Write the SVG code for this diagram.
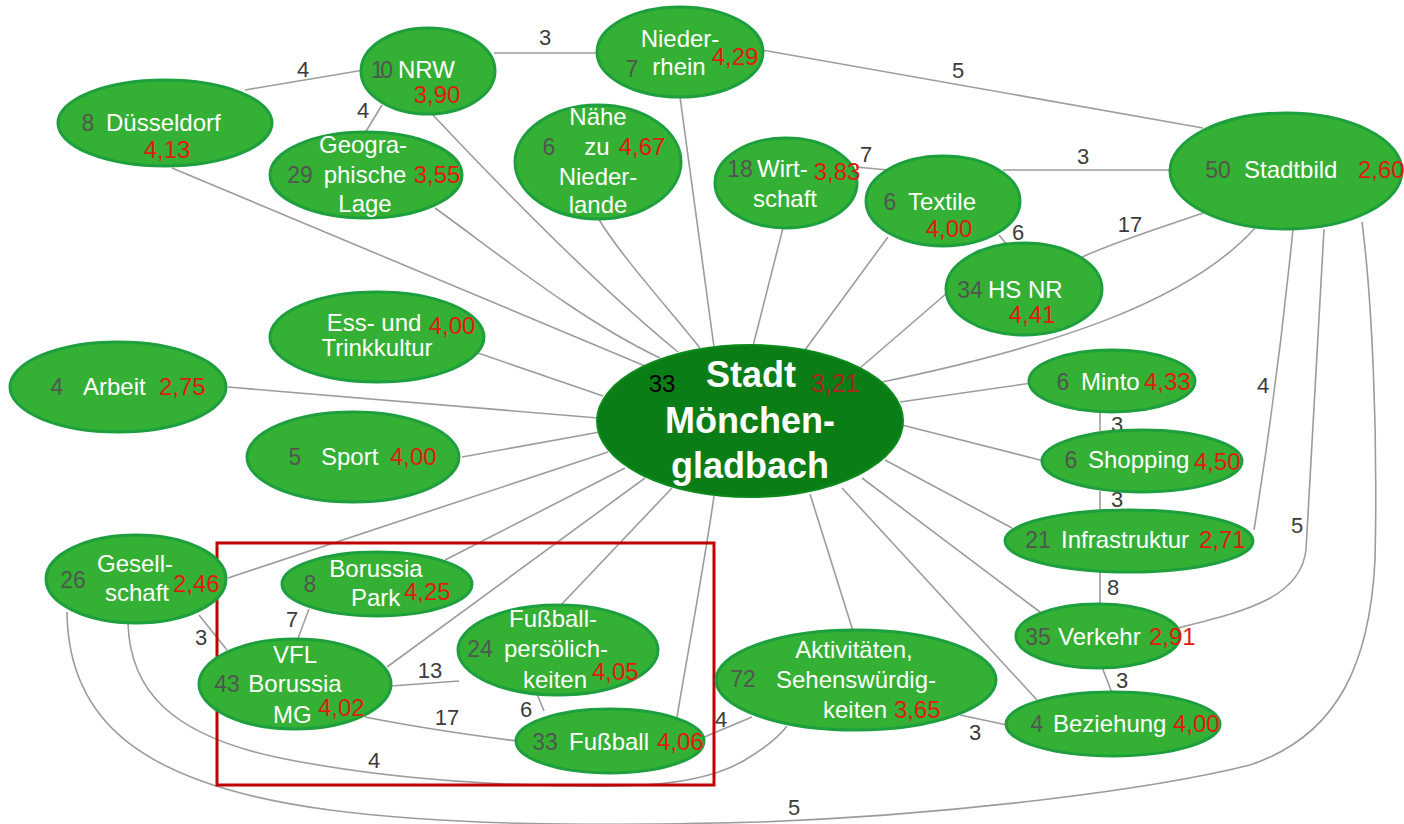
<svg xmlns="http://www.w3.org/2000/svg" width="1404" height="824" viewBox="0 0 1404 824">
<style>
.c{fill:none;stroke:#9c9c9c;stroke-width:1.6}
.n{fill:#34b034;stroke:#1d9f3e;stroke-width:3}
.m{fill:#0b7d16;stroke:#0d8a1c;stroke-width:2}
text{font-family:"Liberation Sans",Arial,sans-serif}
.t{fill:#ffffff;font-size:24px}
.g{fill:#50574f;font-size:23px}
.r{fill:#e01b10;font-size:24px}
.e{fill:#3c3c3c;font-size:22px;text-anchor:middle}
.mid{text-anchor:middle}
.b{fill:#ffffff;font-size:36px;font-weight:bold;text-anchor:middle}
</style>
<rect width="1404" height="824" fill="#ffffff"/>
<g id="connectors">
<path class="c" d="M172,168 L645,366"/>
<path class="c" d="M435,208 C500,255 580,320 660,358"/>
<path class="c" d="M432,114 C480,165 590,280 678,352"/>
<path class="c" d="M598,218 C620,255 670,310 700,348"/>
<path class="c" d="M680,97 L714,347"/>
<path class="c" d="M783,228 L753,346"/>
<path class="c" d="M888,237 L805,350"/>
<path class="c" d="M947,293 L860,368"/>
<path class="c" d="M1255,228 C1190,300 1060,345 882,382"/>
<path class="c" d="M1032,383 L900,402"/>
<path class="c" d="M1044,461 L902,425"/>
<path class="c" d="M1012,528 L885,460"/>
<path class="c" d="M1040,612 L862,478"/>
<path class="c" d="M1037,700 L842,488"/>
<path class="c" d="M853,631 L810,494"/>
<path class="c" d="M677,717 C690,640 705,560 714,496"/>
<path class="c" d="M561,605 L672,488"/>
<path class="c" d="M387,667 L645,478"/>
<path class="c" d="M445,560 L625,468"/>
<path class="c" d="M228,578 L608,452"/>
<path class="c" d="M462,457 L600,432"/>
<path class="c" d="M228,387 L598,418"/>
<path class="c" d="M478,353 L603,396"/>
<path class="c" d="M245,90 L364,70"/>
<path class="c" d="M382,105 L365,133"/>
<path class="c" d="M494,53 L598,53"/>
<path class="c" d="M762,50 L1203,128"/>
<path class="c" d="M856,167 L888,170"/>
<path class="c" d="M1003,170 L1171,170"/>
<path class="c" d="M999,235 L1008,246"/>
<path class="c" d="M1082,257 C1120,240 1160,228 1203,213"/>
<path class="c" d="M1293,229 C1284,320 1270,430 1254,530"/>
<path class="c" d="M1324,229 C1318,330 1312,450 1306,550 C1300,600 1240,612 1178,628"/>
<path class="c" d="M1100,411 L1100,431"/>
<path class="c" d="M1100,491 L1100,511"/>
<path class="c" d="M1100,571 L1100,605"/>
<path class="c" d="M1102,667 L1112,693"/>
<path class="c" d="M960,715 L1007,725"/>
<path class="c" d="M702,738 L752,717"/>
<path class="c" d="M537,694 L544,711"/>
<path class="c" d="M365,717 C420,728 470,735 517,741"/>
<path class="c" d="M391,686 L459,681"/>
<path class="c" d="M309,609 L297,641"/>
<path class="c" d="M199,615 L227,650"/>
<path class="c" d="M128,623 C130,690 170,735 280,758 C380,778 500,787 620,786 C680,785 720,775 745,760 C765,748 778,738 787,726"/>
<path class="c" d="M67,612 C68,720 140,785 330,810 C450,826 600,826 760,822 C950,815 1150,790 1250,765 C1340,735 1370,660 1375,560 C1378,430 1372,300 1362,222"/>
<text class="e" x="303" y="77">4</text>
<text class="e" x="363" y="118">4</text>
<text class="e" x="545" y="45">3</text>
<text class="e" x="958" y="78">5</text>
<text class="e" x="866" y="162">7</text>
<text class="e" x="1083" y="164">3</text>
<text class="e" x="1018" y="240">6</text>
<text class="e" x="1130" y="232">17</text>
<text class="e" x="1263" y="393">4</text>
<text class="e" x="1297" y="533">5</text>
<text class="e" x="1117" y="432">3</text>
<text class="e" x="1117" y="507">3</text>
<text class="e" x="1113" y="595">8</text>
<text class="e" x="1122" y="688">3</text>
<text class="e" x="975" y="740">3</text>
<text class="e" x="721" y="727">4</text>
<text class="e" x="526" y="717">6</text>
<text class="e" x="447" y="725">17</text>
<text class="e" x="430" y="678">13</text>
<text class="e" x="292" y="627">7</text>
<text class="e" x="201" y="645">3</text>
<text class="e" x="374" y="768">4</text>
<text class="e" x="794" y="815">5</text>
</g>
<rect x="217" y="543" width="497" height="242" fill="none" stroke="#c00000" stroke-width="3"/>
<g id="central">
<ellipse class="m" cx="750" cy="421" rx="153" ry="76"/>
<text class="b" x="751" y="387">Stadt</text>
<text class="b" x="750" y="433">Mönchen-</text>
<text class="b" x="750" y="478">gladbach</text>
<text class="mid" x="662" y="392" fill="#000000" font-size="24">33</text>
<text class="mid" x="835" y="392" fill="#a8281e" font-size="25">3,21</text>
</g>
<g id="duesseldorf">
<ellipse class="n" cx="165" cy="123" rx="107" ry="43"/>
<text class="g mid" x="88" y="131">8</text>
<text class="t" x="106" y="131">Düsseldorf</text>
<text class="r mid" x="167" y="158">4,13</text>
</g>
<g id="nrw">
<ellipse class="n" cx="428" cy="71" rx="67" ry="43"/>
<text class="g mid" x="382" y="78" textLength="22">10</text>
<text class="t" x="398" y="78">NRW</text>
<text class="r mid" x="437" y="103">3,90</text>
</g>
<g id="geographische-lage">
<ellipse class="n" cx="366" cy="175" rx="96" ry="43"/>
<text class="t mid" x="363" y="153">Geogra-</text>
<text class="t mid" x="365" y="183">phische</text>
<text class="t mid" x="365" y="212">Lage</text>
<text class="g mid" x="300" y="183">29</text>
<text class="r mid" x="437" y="183">3,55</text>
</g>
<g id="niederrhein">
<ellipse class="n" cx="680" cy="52" rx="83" ry="45"/>
<text class="t mid" x="680" y="47">Nieder-</text>
<text class="t mid" x="679" y="75">rhein</text>
<text class="g mid" x="632" y="77">7</text>
<text class="r mid" x="735" y="65">4,29</text>
</g>
<g id="naehe-niederlande">
<ellipse class="n" cx="598" cy="162" rx="83" ry="57"/>
<text class="t mid" x="598" y="125">Nähe</text>
<text class="t mid" x="597" y="155">zu</text>
<text class="t mid" x="598" y="185">Nieder-</text>
<text class="t mid" x="598" y="213">lande</text>
<text class="g mid" x="549" y="155">6</text>
<text class="r mid" x="642" y="155">4,67</text>
</g>
<g id="wirtschaft">
<ellipse class="n" cx="786" cy="183" rx="71" ry="45"/>
<text class="t" x="757" y="177">Wirt-</text>
<text class="t mid" x="785" y="207">schaft</text>
<text class="g mid" x="740" y="177">18</text>
<text class="r mid" x="837" y="180">3,83</text>
</g>
<g id="textile">
<ellipse class="n" cx="943" cy="201" rx="77" ry="45"/>
<text class="g mid" x="890" y="210">6</text>
<text class="t" x="908" y="210">Textile</text>
<text class="r mid" x="949" y="237">4,00</text>
</g>
<g id="hs-nr">
<ellipse class="n" cx="1024" cy="289" rx="78" ry="46"/>
<text class="g mid" x="970" y="298">34</text>
<text class="t" x="988" y="298">HS NR</text>
<text class="r mid" x="1032" y="323">4,41</text>
</g>
<g id="stadtbild">
<ellipse class="n" cx="1286" cy="171" rx="116" ry="58"/>
<text class="g mid" x="1218" y="178">50</text>
<text class="t" x="1244" y="178">Stadtbild</text>
<text class="r" x="1358" y="178">2,60</text>
</g>
<g id="ess-trinkkultur">
<ellipse class="n" cx="377" cy="337" rx="107" ry="45"/>
<text class="t mid" x="374" y="331">Ess- und</text>
<text class="t mid" x="377" y="356">Trinkkultur</text>
<text class="r mid" x="452" y="334">4,00</text>
</g>
<g id="arbeit">
<ellipse class="n" cx="118" cy="387" rx="108" ry="45"/>
<text class="g mid" x="57" y="395">4</text>
<text class="t" x="83" y="395">Arbeit</text>
<text class="r" x="159" y="395">2,75</text>
</g>
<g id="sport">
<ellipse class="n" cx="353" cy="457" rx="106" ry="45"/>
<text class="g mid" x="295" y="465">5</text>
<text class="t" x="321" y="465">Sport</text>
<text class="r" x="390" y="465">4,00</text>
</g>
<g id="minto">
<ellipse class="n" cx="1112" cy="381" rx="83" ry="31"/>
<text class="g mid" x="1063" y="390">6</text>
<text class="t" x="1081" y="390">Minto</text>
<text class="r" x="1144" y="390">4,33</text>
</g>
<g id="shopping">
<ellipse class="n" cx="1142" cy="461" rx="100" ry="31"/>
<text class="g mid" x="1071" y="468">6</text>
<text class="t" x="1088" y="468">Shopping</text>
<text class="r" x="1194" y="470">4,50</text>
</g>
<g id="infrastruktur">
<ellipse class="n" cx="1129" cy="541" rx="124" ry="31"/>
<text class="g mid" x="1038" y="548">21</text>
<text class="t" x="1061" y="548">Infrastruktur</text>
<text class="r" x="1199" y="548">2,71</text>
</g>
<g id="verkehr">
<ellipse class="n" cx="1098" cy="636" rx="82" ry="32"/>
<text class="g mid" x="1038" y="645">35</text>
<text class="t" x="1058" y="645">Verkehr</text>
<text class="r" x="1149" y="645">2,91</text>
</g>
<g id="beziehung">
<ellipse class="n" cx="1113" cy="724" rx="107" ry="32"/>
<text class="g mid" x="1037" y="732">4</text>
<text class="t" x="1053" y="732">Beziehung</text>
<text class="r" x="1173" y="732">4,00</text>
</g>
<g id="aktivitaeten">
<ellipse class="n" cx="856" cy="680" rx="140" ry="50"/>
<text class="g mid" x="743" y="687">72</text>
<text class="t mid" x="854" y="658">Aktivitäten,</text>
<text class="t mid" x="856" y="688">Sehenswürdig-</text>
<text class="t" x="823" y="718">keiten</text>
<text class="r" x="894" y="718">3,65</text>
</g>
<g id="fussball">
<ellipse class="n" cx="610" cy="741" rx="94" ry="32"/>
<text class="g mid" x="545" y="750">33</text>
<text class="t" x="569" y="750">Fußball</text>
<text class="r" x="657" y="750">4,06</text>
</g>
<g id="fussballpersoenlichkeiten">
<ellipse class="n" cx="558" cy="650" rx="100" ry="45"/>
<text class="t mid" x="553" y="627">Fußball-</text>
<text class="t mid" x="556" y="657">persölich-</text>
<text class="t mid" x="555" y="688">keiten</text>
<text class="g mid" x="480" y="657">24</text>
<text class="r" x="592" y="680">4,05</text>
</g>
<g id="gesellschaft">
<ellipse class="n" cx="136" cy="579" rx="90" ry="44"/>
<text class="g mid" x="73" y="588">26</text>
<text class="t mid" x="135" y="572">Gesell-</text>
<text class="t mid" x="137" y="601">schaft</text>
<text class="r" x="173" y="592">2,46</text>
</g>
<g id="borussia-park">
<ellipse class="n" cx="377" cy="584" rx="95" ry="32"/>
<text class="g mid" x="310" y="592">8</text>
<text class="t mid" x="376" y="577">Borussia</text>
<text class="t" x="351" y="606">Park</text>
<text class="r" x="404" y="600">4,25</text>
</g>
<g id="vfl-borussia-mg">
<ellipse class="n" cx="295" cy="684" rx="96" ry="45"/>
<text class="t mid" x="295" y="663">VFL</text>
<text class="t mid" x="295" y="692">Borussia</text>
<text class="t" x="273" y="723">MG</text>
<text class="g mid" x="227" y="692">43</text>
<text class="r" x="318" y="716">4,02</text>
</g>
</svg>
